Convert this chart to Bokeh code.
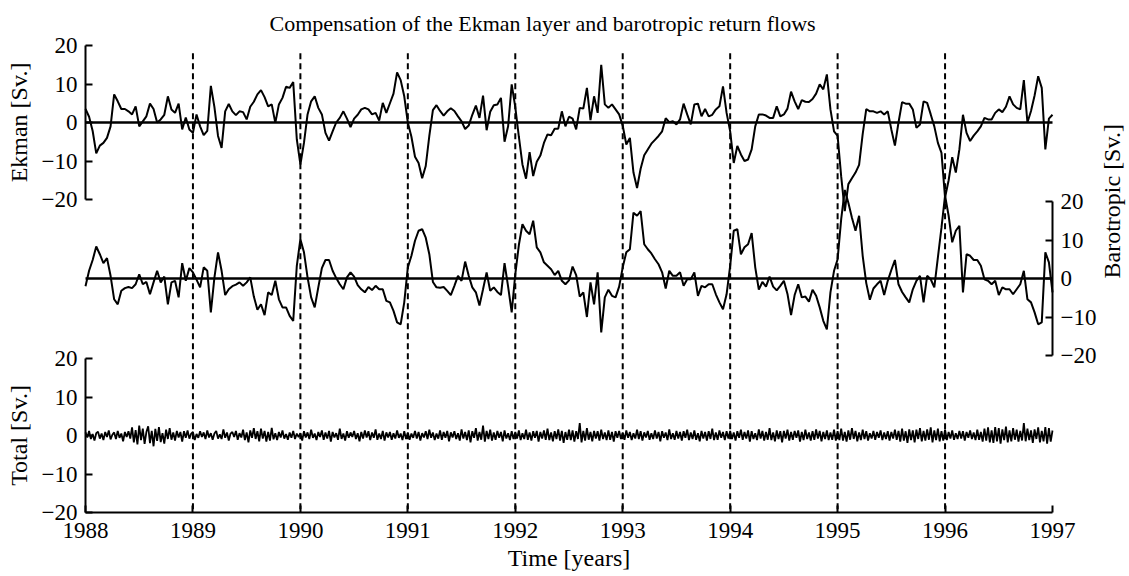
import math
import numpy as np
from bokeh.plotting import figure
from bokeh.models import Range1d, LinearAxis, FixedTicker
from bokeh.embed import file_html
from bokeh.resources import INLINE

# ---------------- data ----------------
# Ekman and barotropic transports sampled every 1/30 year from 1988.0
ekman = [
    3.5, 1.5, -2.2, -8, -6, -5.3, -4, -1, 7.3, 5.5,
    3.5, 3.5, 2.9, 2.1, 4.2, -1, 0.3, 1.6, 4.9, 3.5,
    0, 0.8, 2, 6.8, 3.4, 2.5, 4.9, -1.8, 1.3, -1.8,
    -2.7, 2.1, -1, -3.3, -2.2, 9.5, 4, -3.5, -6.6, 2.9,
    4.8, 2.9, 1.9, 2.9, 2.7, 0.8, 4.1, 5.4, 7.3, 8.4,
    6.6, 4.2, 4.7, -0.1, 4.7, 6.4, 9.3, 9, 10.5, -4.4,
    -10.9, -5.3, 2.1, 5.5, 6.8, 3.8, 2.1, -2.7, -4.7, -2.3,
    0, 1.2, 2.9, 1, -1.2, 1, 2, 3.4, 3.8, 3.4,
    2.1, 2.5, 0.5, 5.1, 2.5, 5, 7.5, 13, 11, 6.8,
    0, -3.7, -8.9, -10.5, -14.5, -11.3, -3.5, 3.2, 4.5, 3,
    1.8, 2.9, 3.7, 3, 1.6, 0.3, -1.7, -0.8, 2, 4.4,
    1.2, 7, -2, 2.8, 4.5, 4.7, 6.4, -5, -1, 9.9,
    4, -3.7, -10.9, -14.6, -7.7, -13.9, -10.2, -8.6, -5.3, -3.1,
    -3.3, -1.6, -1.6, 2.9, -1, 1.5, 1, -1.8, 3.8, 3.6,
    9, 0.6, 6.8, 2.5, 15, 4.7, 3.8, 4.7, 3.4, 2.1,
    -0.8, -5.7, -4, -13, -17, -12, -8.5, -7, -5.5, -4.5,
    -3.5, -2.3, 1.1, 0.1, 0.3, -0.5, 0.8, 4.9, 2.1, -0.5,
    4.7, 4.9, 1.6, 3.5, 1.6, 2, 3.4, 4.2, 9.4, 2.5,
    -2.3, -10.5, -6.1, -8.3, -10, -9.6, -7, -1, 2.1, 2.1,
    1.8, 1.2, 1.2, 4.2, 1.6, 2.1, 3.6, 8, 5.5, 3.5,
    5.8, 5.4, 5.3, 6.1, 7.5, 9.9, 8.6, 12.5, 3.4, -2.3,
    -3.5, -14, -23, -16, -14.5, -13, -11, -3, 3.5, 2.9,
    2.9, 2.5, 2.9, 2.1, 2.9, -1.8, -6, 0, 5.3, 4.9,
    4.9, 3.4, -1.4, -0.5, 5.5, 5.1, 2.1, -1, -5.3, -7.9,
    -19.5, -15, -9, -13, -7, 2, -2.7, -4.8, -3.4, -2.3,
    -1, 1.2, 0.8, 0.8, 2.5, 3.4, 2.7, 4.1, 6.8, 4.7,
    3.8, 3.4, 11, 0, 3, 7, 12, 9, -7, 1,
    2,
]

barotropic = [
    -2, 2, 4.8, 8.3, 6.3, 4, 5.3, 0.7, -5.4, -6.7,
    -3.2, -2.5, -2.2, -2.5, -1.5, 1.1, -1.5, -0.9, -4.1, -1,
    2, -1, 0.5, -6.7, -1, -0.6, -4.9, 4, -0.6, 2.7,
    1.6, -0.3, -2.3, 2.9, 2, -8.8, 0.3, 6.8, 2, -4.3,
    -2.8, -2, -1.6, -1, -1.9, -1, 0.3, -4.7, -8.1, -6.7,
    -9.5, -3.6, -4.3, -0.6, -5.4, -7.5, -7.5, -9.7, -11, 3.3,
    10.2, 6.8, 0.3, -4.9, -7.5, -2.3, 2.7, 4.8, 4.8, 2,
    0.1, -1.5, -2.8, 0.3, 1.6, 0.5, -1.7, -2.8, -3.6, -2.2,
    -3, -1.9, -2.8, -2.8, -5.8, -6.2, -8.4, -11.4, -11.9, -6.2,
    2.9, 5.9, 9.8, 12.4, 12.8, 10.6, 6.3, -0.9, -2.3, -2.4,
    -2.2, -3.2, -4.3, -1.9, 0.7, -0.6, 4.4, 0.7, -2.3, -3.6,
    -7, -2.8, 1.6, -3.2, -2.3, -3.5, -4.3, 4, -2.1, -8.8,
    1.1, 8.7, 14.1, 12.4, 11.5, 15, 8.1, 6.8, 4.2, 3.3,
    2.4, 0.9, 2, -0.6, -1.5, -0.5, 3.1, 0.9, -4.7, -3.6,
    -10, -1, -6.7, 1.6, -14, -4.9, -2.9, -4.5, -4.9, -2.1,
    2.9, 6.8, 7.6, 17.1, 16.3, 17.5, 8.9, 7.6, 6.5, 5,
    3.7, 1.6, -2.6, 2, 0.7, 0.7, 1.6, -1.9, -0.2, -0.2,
    1.6, -4.5, -1.9, -2.3, -1.5, -1.5, -4.1, -6.2, -8, -4.1,
    3.3, 12.4, 12.8, 6.3, 8.1, 8.9, 11.8, 2.9, -2.9, -0.9,
    -2.1, 0.5, -2.1, -3.1, -1.9, -0.6, -4, -9.5, -4.3, -1.5,
    -4.9, -4.7, -6, -2.9, -4.5, -7.5, -11, -13.2, -3.6, 2,
    5, 15.4, 23, 19.7, 15.8, 12.4, 16.3, 5.9, -1.2, -5.5,
    -2.6, -1.5, -0.6, -4.3, -0.6, 2.2, 4.8, -1.5, -3.5, -4.9,
    -6.2, -2.8, -0.6, 0.7, -6.2, 0.7, -0.2, -2.3, 5.5, 13.2,
    21.5, 16.3, 9.4, 12.4, 13.7, -3.6, 6.3, 5.9, 4.8, 4.8,
    3.3, -0.2, -0.6, -1.5, -0.6, -4.3, -2.3, -2.8, -2.8, -4.1,
    -2.8, -1.5, 2, -5.4, -6.2, -8.8, -11.9, -11.4, 6.8, 4.2,
    -3.6,
]

# Total transport sampled every 1/60 year, one list per year
total_1988 = [0.8, -0.5, 1.2, -0.9, 0.4, -1.3, 0.6, 1.0, -0.8, 0.5,
              -1.2, 0.9, -0.4, 1.3, -1.0, 0.2, 0.8, -0.9, 1.2, -0.6,
              0.5, -1.5, 0.9, -0.4, 1.1, -0.8, 2.1, -1.8, 1.4, -2.3,
              2.6, -1.2, 1.8, -2.2, 0.9, 2.4, -2.0, 1.2, -2.8, 1.7,
              -1.4, 2.2, -1.7, 0.6, -2.1, 1.5, -0.9, 1.9, -1.1, 0.8,
              -1.3, 1.2, -0.5, 0.9, -1.6, 1.1, -0.6, 1.3, -0.8, 0.5]
total_1989 = [0.9, -1.2, 0.4, -0.6, 1.1, -0.4, 0.8, -0.9, 1.3, -0.5,
              0.6, -1.1, 0.5, 1.2, -0.8, 0.3, -0.9, 1.6, -0.6, 0.8,
              -1.3, 0.5, 0.9, -0.4, 1.2, -1.1, 0.6, -0.5, 1.5, -1.2,
              0.8, -1.8, 1.3, -0.6, 1.9, -0.9, 1.1, -1.5, 1.8, -0.8,
              1.2, -1.6, 0.9, -1.3, 2.0, -1.0, 0.6, -1.2, 0.9, -0.5,
              1.3, -0.8, 0.4, -1.1, 0.8, -0.6, 1.2, -0.9, 0.5, -0.4]
total_1990 = [0.6, -1.3, 1.1, -0.5, 0.8, -0.9, 1.5, -0.6, 0.5, -1.2,
              0.9, -0.4, 1.3, -1.1, 0.8, -0.8, 1.2, -1.6, 0.9, -0.5,
              0.6, -1.1, 1.8, -0.9, 0.5, -1.3, 1.1, -0.6, 0.8, -0.4,
              1.2, -0.9, 0.6, -1.5, 0.9, -0.8, 1.3, -0.5, 1.1, -1.2,
              0.8, -0.6, 1.6, -1.1, 0.5, -0.9, 1.2, -1.3, 0.8, -0.5,
              0.9, -1.1, 0.6, -0.8, 1.3, -0.6, 0.5, -1.2, 1.1, -0.9]
total_1991 = [0.8, -1.1, 0.5, -0.6, 1.2, -0.8, 0.9, -1.3, 0.6, -0.5,
              1.1, -0.9, 1.5, -0.6, 0.8, -1.2, 0.5, -0.8, 1.3, -1.1,
              0.9, -0.6, 1.2, -1.5, 0.8, -0.5, 1.1, -0.9, 0.6, -1.3,
              1.6, -0.8, 0.9, -1.2, 1.3, -1.8, 1.1, -0.6, 1.9, -1.3,
              0.9, -1.1, 2.6, -1.6, 1.2, -0.9, 1.5, -1.3, 0.8, -1.1,
              1.2, -0.6, 0.9, -1.5, 1.3, -0.8, 0.6, -1.2, 1.1, -0.9]
total_1992 = [0.9, -0.8, 1.3, -1.2, 0.6, -0.9, 1.5, -1.1, 0.8, -1.3,
              1.1, -0.6, 1.2, -1.6, 0.9, -0.8, 1.3, -1.1, 1.8, -1.2,
              0.8, -1.5, 1.1, -0.9, 1.6, -1.3, 1.2, -1.9, 0.9, -1.1,
              1.5, -1.2, 1.3, -1.6, 1.1, -0.9, 3.2, -1.8, 1.2, -1.3,
              1.9, -1.1, 0.9, -1.5, 1.2, -0.8, 1.1, -1.3, 1.5, -0.9,
              0.8, -1.2, 1.3, -1.1, 0.9, -1.6, 1.1, -0.6, 1.2, -0.9]
total_1993 = [0.8, -1.1, 1.3, -0.6, 0.9, -1.2, 0.6, -0.8, 1.5, -0.9,
              1.1, -1.3, 0.8, -0.5, 1.2, -1.1, 0.6, -0.9, 1.3, -0.8,
              0.9, -1.5, 1.1, -0.6, 0.8, -1.2, 1.6, -0.9, 0.6, -1.1,
              1.2, -0.8, 0.9, -1.3, 1.1, -0.6, 1.5, -1.2, 0.8, -0.9,
              1.3, -1.1, 0.6, -1.5, 1.2, -0.8, 0.9, -1.3, 1.1, -0.9,
              1.8, -1.2, 0.8, -1.1, 1.3, -0.6, 0.9, -1.2, 1.1, -0.8]
total_1994 = [1.2, -0.9, 0.8, -1.3, 1.1, -0.6, 1.5, -1.1, 0.9, -0.8,
              1.3, -1.6, 1.1, -0.9, 0.6, -1.2, 1.6, -0.8, 1.2, -1.3,
              0.9, -1.1, 1.9, -1.2, 0.8, -1.5, 1.3, -0.9, 1.1, -1.8,
              1.2, -0.8, 1.5, -1.3, 0.9, -1.1, 1.2, -0.6, 1.3, -1.6,
              0.9, -1.2, 1.5, -0.9, 0.8, -1.3, 1.1, -1.1, 1.6, -0.8,
              1.2, -1.5, 0.9, -0.9, 1.3, -1.2, 0.8, -1.1, 1.5, -1.3]
total_1995 = [1.1, -1.2, 1.8, -1.3, 0.9, -1.6, 1.3, -1.1, 1.9, -0.9,
              1.2, -1.5, 0.8, -1.2, 1.5, -0.9, 1.1, -1.3, 0.6, -0.8,
              1.2, -1.1, 0.9, -0.6, 1.3, -1.2, 0.8, -0.9, 1.1, -1.3,
              0.9, -0.8, 1.5, -1.1, 1.2, -1.6, 1.8, -1.3, 1.1, -1.9,
              1.6, -1.2, 1.3, -1.8, 1.5, -0.9, 1.9, -1.5, 1.2, -1.3,
              1.6, -1.1, 2.1, -1.8, 1.3, -1.2, 1.8, -1.5, 1.1, -1.3]
total_1996 = [1.5, -1.2, 0.9, -0.8, 1.3, -1.1, 0.6, -0.9, 1.2, -0.8,
              1.1, -1.3, 0.9, -0.6, 1.3, -0.9, 0.8, -1.2, 1.5, -1.1,
              0.9, -1.6, 1.8, -1.3, 2.1, -1.8, 1.3, -1.9, 2.2, -1.5,
              1.9, -2.1, 1.6, -1.2, 2.3, -1.8, 1.3, -1.5, 1.9, -1.1,
              1.5, -1.6, 1.2, -1.3, 3.2, -1.5, 1.8, -1.2, 1.3, -1.9,
              1.6, -0.9, 2.1, -1.8, 1.2, -1.5, 2.2, -2.1, 1.9, -1.6]
total_end = [1.3]

total = (total_1988 + total_1989 + total_1990 + total_1991 + total_1992
         + total_1993 + total_1994 + total_1995 + total_1996 + total_end)

start_year = 1988
coarse_per_year = 30
fine_per_year = 60

year_ticks = [1988, 1989, 1990, 1991, 1992, 1993, 1994, 1995, 1996, 1997]
year_labels = ["1988", "1989", "1990", "1991", "1992", "1993", "1994", "1995", "1996", "1997"]
year_lines = [1989, 1990, 1991, 1992, 1993, 1994, 1995, 1996]
flow_ticks = [-20, -10, 0, 10, 20]
flow_labels = ["\u221220", "\u221210", "0", "10", "20"]

ek_years = start_year + np.arange(len(ekman)) / coarse_per_year
bt_years = start_year + np.arange(len(barotropic)) / coarse_per_year
tot_years = start_year + np.arange(len(total)) / fine_per_year

# ---------------- layout (page pixels) ----------------
W, H = 1129, 576
FRAME_TOP = 37                   # below the title; frame runs to the canvas bottom
X_LEFT_PX, X_RIGHT_PX = 85, 1052 # where 1988 and 1997 fall
PX_PER_SV = 3.85
ZERO_EK, ZERO_BT, ZERO_TOT = 122, 278, 435   # y of each panel's zero line
DASH_TOP_EK = 18.0                           # top of the dashed year lines (Ekman units)
TITLE_LEFT = 269

px_per_year = (X_RIGHT_PX - X_LEFT_PX) / (year_ticks[-1] - year_ticks[0])
x_range = Range1d(year_ticks[0] - X_LEFT_PX / px_per_year,
                  year_ticks[0] + (W - X_LEFT_PX) / px_per_year)

def panel_range(zero_y):
    return Range1d((zero_y - H) / PX_PER_SV, (zero_y - FRAME_TOP) / PX_PER_SV)

FONT = "Liberation Serif"
TICK_FS = "23px"
LABEL_FS = "24px"

p = figure(width=W, height=H, output_backend="svg", toolbar_location=None,
           x_range=x_range, y_range=panel_range(ZERO_TOT),
           x_axis_type=None, y_axis_type=None,
           min_border_left=0, min_border_right=0,
           min_border_top=FRAME_TOP, min_border_bottom=0)
p.extra_y_ranges = {"ek": panel_range(ZERO_EK), "bt": panel_range(ZERO_BT)}
p.outline_line_color = None
p.background_fill_color = "white"
p.border_fill_color = "white"

p.title.text = "Compensation of the Ekman layer and barotropic return flows"
p.title.align = "left"
p.title.offset = TITLE_LEFT
p.title.text_font = FONT
p.title.text_font_size = "22px"
p.title.text_font_style = "normal"
p.title.text_color = "black"
p.title.standoff = 3

flow_over = {t: s for t, s in zip(flow_ticks, flow_labels)}
year_over = {t: s for t, s in zip(year_ticks, year_labels)}

def style(ax, label_standoff=7, tick_standoff=8):
    ax.axis_line_width = 2
    ax.axis_line_color = "black"
    ax.major_tick_line_width = 2
    ax.major_tick_line_color = "black"
    ax.major_tick_in = 7
    ax.major_tick_out = 0
    ax.minor_tick_line_color = None
    ax.major_label_text_font = FONT
    ax.major_label_text_font_size = TICK_FS
    ax.major_label_text_color = "black"
    ax.axis_label_text_font = FONT
    ax.axis_label_text_font_size = LABEL_FS
    ax.axis_label_text_font_style = "normal"
    ax.axis_label_text_color = "black"
    ax.major_label_standoff = tick_standoff
    ax.axis_label_standoff = label_standoff

ek_axis = LinearAxis(y_range_name="ek", ticker=FixedTicker(ticks=flow_ticks),
                     bounds=(-20, 20), fixed_location=year_ticks[0],
                     axis_label="Ekman [Sv.]", major_label_overrides=flow_over)
style(ek_axis)
p.add_layout(ek_axis, "left")

tot_axis = LinearAxis(ticker=FixedTicker(ticks=flow_ticks),
                      bounds=(-20, 20), fixed_location=year_ticks[0],
                      axis_label="Total [Sv.]", major_label_overrides=flow_over)
style(tot_axis)
p.add_layout(tot_axis, "left")

bt_axis = LinearAxis(y_range_name="bt", ticker=FixedTicker(ticks=flow_ticks),
                     bounds=(-20, 20), fixed_location=year_ticks[-1],
                     axis_label="Barotropic [Sv.]", major_label_overrides=flow_over)
style(bt_axis, label_standoff=13)
try:
    bt_axis.axis_label_orientation = math.pi / 2
except Exception:
    pass
p.add_layout(bt_axis, "right")

x_axis = LinearAxis(ticker=FixedTicker(ticks=year_ticks), fixed_location=-20,
                    bounds=(year_ticks[0], year_ticks[-1]),
                    axis_label="Time [years]", major_label_overrides=year_over)
style(x_axis, label_standoff=4, tick_standoff=10)
p.add_layout(x_axis, "below")

# dashed year lines, from near the top of the Ekman panel down to the time axis
dash_top_tot = (ZERO_TOT - (ZERO_EK - DASH_TOP_EK * PX_PER_SV)) / PX_PER_SV
n = len(year_lines)
p.segment(x0=year_lines, x1=year_lines, y0=[dash_top_tot] * n, y1=[-20] * n,
          line_color="black", line_width=2, line_dash="6 4")

# zero lines of the two upper panels
for rn in ("ek", "bt"):
    p.segment(x0=[year_ticks[0]], x1=[year_ticks[-1]], y0=[0], y1=[0],
              y_range_name=rn, line_color="black", line_width=2.5)

p.line(ek_years, ekman, y_range_name="ek", line_color="black", line_width=2)
p.line(bt_years, barotropic, y_range_name="bt", line_color="black", line_width=2)
p.line(tot_years, total, line_color="black", line_width=1.8)

open("out.html", "w").write(file_html(p, INLINE))
